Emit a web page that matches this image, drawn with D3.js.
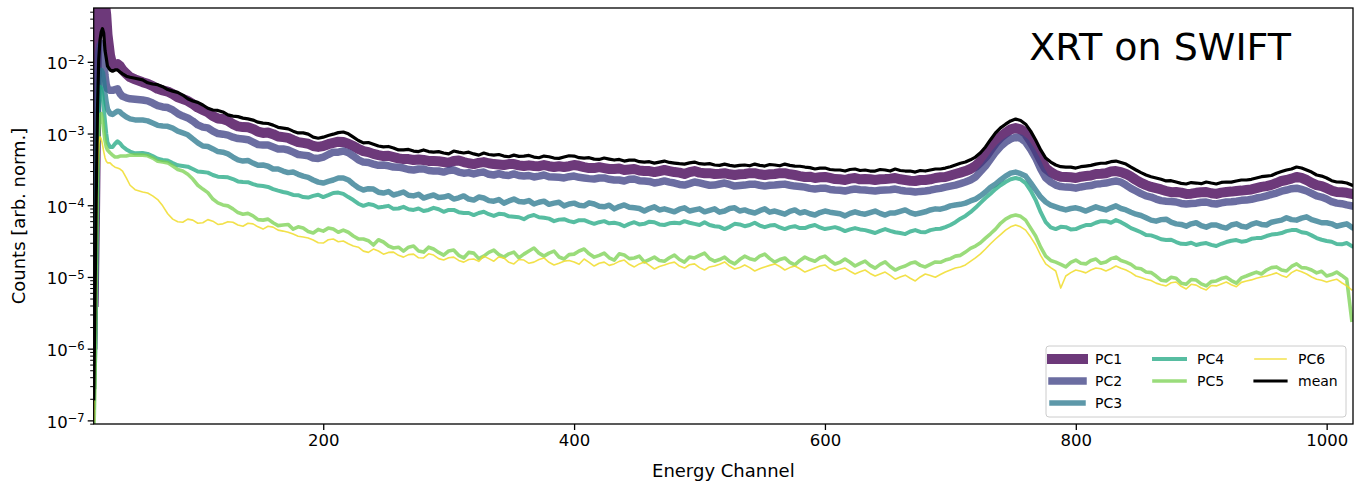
<!DOCTYPE html>
<html>
<head>
<meta charset="utf-8">
<script src="https://cdn.jsdelivr.net/npm/d3@7"></script>
<style>
  body { margin: 0; background: #fff; }
  svg { display: block; }
  text { font-family: "DejaVu Sans", sans-serif; fill: #000; }
</style>
</head>
<body>
<svg id="chart" width="1371" height="490"></svg>
<script>
// Energy channels at which the spectra are sampled
const channels = [17,18,19,20,21,22,23,24,25,26,27,28,30,32,34,36,38,40,43,46,50,
  56,60,64,68,72,76,80,84,88,92,96,100,104,108,112,116,120,124,128,132,
  136,140,144,148,152,156,160,164,168,172,176,180,184,188,192,196,200,204,208,212,
  216,220,224,228,232,236,240,244,248,252,256,260,264,268,272,276,280,284,288,292,
  296,300,304,308,312,316,320,324,328,332,336,340,344,348,352,356,360,364,368,372,
  376,380,384,388,392,396,400,404,408,412,416,420,424,428,432,436,440,444,448,452,
  456,460,464,468,472,476,480,484,488,492,496,500,504,508,512,516,520,524,528,532,
  536,540,544,548,552,556,560,564,568,572,576,580,584,588,592,596,600,604,608,612,
  616,620,624,628,632,636,640,644,648,652,656,660,664,668,672,676,680,684,688,692,
  696,700,704,708,712,716,720,724,728,732,736,740,744,748,752,756,760,764,768,772,
  776,780,784,788,792,796,800,804,808,812,816,820,824,828,832,836,840,844,848,852,
  856,860,864,868,872,876,880,884,888,892,896,900,904,908,912,916,920,924,928,932,
  936,940,944,948,952,956,960,964,968,972,976,980,984,988,992,996,1000,1004,1008,1012,
  1016,1020];

const pc1 = [4.5e-6,6e-5,2e-3,3e-2,7e-2,9e-2,0.1,0.1,9e-2,6.5e-2,4.5e-2,2.4e-2,1.24e-2,8.7e-3,9.0e-3,9.3e-3,8.7e-3,7.7e-3,6.8e-3,6.1e-3,5.7e-3,
  5.2e-3,4.95e-3,4.6e-3,4.2e-3,4.0e-3,3.85e-3,3.55e-3,3.2e-3,3.03e-3,2.85e-3,2.58e-3,2.3e-3,2.13e-3,1.98e-3,1.75e-3,1.62e-3,1.59e-3,1.5e-3,1.35e-3,1.26e-3,
  1.23e-3,1.22e-3,1.16e-3,1.06e-3,1.02e-3,1.03e-3,9.8e-4,9.1e-4,8.9e-4,8.7e-4,8.1e-4,7.6e-4,7.4e-4,7.2e-4,6.7e-4,6.5e-4,6.7e-4,7.1e-4,7.4e-4,7.7e-4,
  7.6e-4,7.2e-4,6.7e-4,6.1e-4,5.7e-4,5.5e-4,5.2e-4,5.0e-4,4.85e-4,4.9e-4,4.7e-4,4.5e-4,4.4e-4,4.4e-4,4.27e-4,4.35e-4,4.27e-4,4.15e-4,4.13e-4,4.1e-4,
  4.0e-4,3.9e-4,4.13e-4,4.2e-4,4.0e-4,3.85e-4,3.75e-4,3.9e-4,4.0e-4,3.85e-4,3.75e-4,3.7e-4,3.64e-4,3.75e-4,3.75e-4,3.6e-4,3.52e-4,3.6e-4,3.52e-4,3.5e-4,
  3.64e-4,3.5e-4,3.41e-4,3.5e-4,3.41e-4,3.5e-4,3.64e-4,3.55e-4,3.41e-4,3.3e-4,3.3e-4,3.4e-4,3.3e-4,3.2e-4,3.2e-4,3.25e-4,3.1e-4,3.15e-4,3.2e-4,3.05e-4,
  3.0e-4,3.0e-4,2.9e-4,3.0e-4,3.1e-4,3.0e-4,2.9e-4,2.85e-4,2.73e-4,2.9e-4,3.0e-4,2.85e-4,2.8e-4,2.8e-4,2.73e-4,2.75e-4,2.8e-4,2.7e-4,2.64e-4,2.7e-4,
  2.73e-4,2.8e-4,2.8e-4,2.7e-4,2.64e-4,2.7e-4,2.73e-4,2.8e-4,2.8e-4,2.7e-4,2.64e-4,2.55e-4,2.48e-4,2.5e-4,2.4e-4,2.45e-4,2.48e-4,2.4e-4,2.32e-4,2.3e-4,
  2.25e-4,2.35e-4,2.4e-4,2.3e-4,2.32e-4,2.3e-4,2.25e-4,2.3e-4,2.32e-4,2.35e-4,2.4e-4,2.3e-4,2.25e-4,2.2e-4,2.18e-4,2.25e-4,2.25e-4,2.3e-4,2.4e-4,2.45e-4,
  2.48e-4,2.6e-4,2.73e-4,2.85e-4,3.0e-4,3.2e-4,3.52e-4,4.1e-4,4.85e-4,6.1e-4,7.6e-4,9.0e-4,1.02e-3,1.14e-3,1.19e-3,1.14e-3,1.02e-3,8.0e-4,6.1e-4,4.4e-4,
  3.3e-4,2.9e-4,2.64e-4,2.5e-4,2.48e-4,2.45e-4,2.4e-4,2.5e-4,2.55e-4,2.6e-4,2.73e-4,2.75e-4,2.8e-4,2.95e-4,3.0e-4,2.9e-4,2.73e-4,2.5e-4,2.25e-4,2.05e-4,
  1.91e-4,1.8e-4,1.73e-4,1.66e-4,1.58e-4,1.52e-4,1.53e-4,1.5e-4,1.44e-4,1.45e-4,1.49e-4,1.52e-4,1.53e-4,1.47e-4,1.44e-4,1.5e-4,1.53e-4,1.55e-4,1.58e-4,1.6e-4,
  1.63e-4,1.66e-4,1.73e-4,1.8e-4,1.85e-4,1.92e-4,2.04e-4,2.18e-4,2.25e-4,2.35e-4,2.48e-4,2.4e-4,2.25e-4,2.05e-4,1.91e-4,1.85e-4,1.73e-4,1.6e-4,1.53e-4,1.52e-4,
  1.49e-4,1.44e-4];

const pc2 = [1.1e-6,2e-5,8e-4,6e-3,1.3e-2,1.7e-2,1.8e-2,1.5e-2,1.0e-2,6.5e-3,4.8e-3,4.2e-3,4.0e-3,4.0e-3,4.1e-3,4.2e-3,3.6e-3,3.3e-3,3.15e-3,3.05e-3,3.0e-3,
  2.93e-3,2.85e-3,2.66e-3,2.45e-3,2.35e-3,2.3e-3,2.13e-3,1.9e-3,1.75e-3,1.65e-3,1.49e-3,1.32e-3,1.23e-3,1.2e-3,1.08e-3,1.0e-3,9.8e-4,9.5e-4,8.9e-4,8.5e-4,
  8.4e-4,8.2e-4,7.6e-4,7.0e-4,6.9e-4,6.9e-4,6.5e-4,6.1e-4,6.1e-4,5.9e-4,5.5e-4,5.1e-4,5.0e-4,4.9e-4,4.55e-4,4.5e-4,4.7e-4,5.1e-4,5.5e-4,5.5e-4,
  5.7e-4,5.4e-4,4.85e-4,4.3e-4,4.0e-4,3.95e-4,3.75e-4,3.6e-4,3.64e-4,3.55e-4,3.41e-4,3.4e-4,3.3e-4,3.15e-4,3.1e-4,3.2e-4,3.2e-4,3.05e-4,3.0e-4,3.0e-4,
  2.9e-4,3.05e-4,3.1e-4,2.9e-4,2.8e-4,2.85e-4,2.73e-4,2.85e-4,2.9e-4,2.7e-4,2.64e-4,2.75e-4,2.64e-4,2.6e-4,2.73e-4,2.6e-4,2.55e-4,2.6e-4,2.48e-4,2.55e-4,
  2.64e-4,2.5e-4,2.48e-4,2.45e-4,2.4e-4,2.5e-4,2.55e-4,2.45e-4,2.4e-4,2.35e-4,2.32e-4,2.4e-4,2.4e-4,2.3e-4,2.25e-4,2.25e-4,2.18e-4,2.3e-4,2.32e-4,2.2e-4,
  2.18e-4,2.15e-4,2.04e-4,2.1e-4,2.18e-4,2.1e-4,2.04e-4,1.95e-4,1.91e-4,2.0e-4,2.11e-4,2.05e-4,1.97e-4,1.9e-4,1.91e-4,1.98e-4,2.04e-4,1.95e-4,1.85e-4,1.88e-4,
  1.91e-4,1.96e-4,1.97e-4,1.9e-4,1.85e-4,1.9e-4,1.91e-4,1.95e-4,1.97e-4,1.9e-4,1.85e-4,1.83e-4,1.79e-4,1.72e-4,1.68e-4,1.72e-4,1.73e-4,1.66e-4,1.63e-4,1.62e-4,
  1.58e-4,1.64e-4,1.68e-4,1.64e-4,1.63e-4,1.6e-4,1.58e-4,1.62e-4,1.63e-4,1.64e-4,1.68e-4,1.62e-4,1.58e-4,1.57e-4,1.53e-4,1.56e-4,1.58e-4,1.62e-4,1.68e-4,1.72e-4,
  1.79e-4,1.85e-4,1.91e-4,2.0e-4,2.11e-4,2.25e-4,2.48e-4,2.95e-4,3.52e-4,4.4e-4,5.5e-4,6.6e-4,7.6e-4,8.4e-4,8.9e-4,8.6e-4,7.6e-4,6.0e-4,4.55e-4,3.2e-4,
  2.4e-4,2.1e-4,1.91e-4,1.82e-4,1.79e-4,1.78e-4,1.73e-4,1.8e-4,1.85e-4,1.88e-4,1.97e-4,2.0e-4,2.04e-4,2.12e-4,2.18e-4,2.1e-4,1.91e-4,1.72e-4,1.58e-4,1.45e-4,
  1.35e-4,1.3e-4,1.22e-4,1.16e-4,1.14e-4,1.13e-4,1.11e-4,1.06e-4,1.04e-4,1.06e-4,1.07e-4,1.1e-4,1.11e-4,1.06e-4,1.04e-4,1.08e-4,1.11e-4,1.12e-4,1.14e-4,1.17e-4,
  1.18e-4,1.21e-4,1.26e-4,1.3e-4,1.35e-4,1.42e-4,1.48e-4,1.57e-4,1.63e-4,1.7e-4,1.73e-4,1.66e-4,1.58e-4,1.46e-4,1.35e-4,1.3e-4,1.22e-4,1.12e-4,1.07e-4,1.05e-4,
  1.01e-4,9.8e-5];

const pc3 = [3e-7,1.5e-6,4e-5,8e-4,4e-3,7e-3,7.6e-3,7e-3,5.2e-3,3.6e-3,2.7e-3,2.2e-3,1.9e-3,1.85e-3,1.95e-3,2.05e-3,2.0e-3,1.85e-3,1.7e-3,1.6e-3,1.55e-3,
  1.54e-3,1.5e-3,1.4e-3,1.3e-3,1.27e-3,1.26e-3,1.19e-3,1.08e-3,1.02e-3,9.6e-4,8.4e-4,7.4e-4,6.7e-4,6.6e-4,6.1e-4,5.6e-4,5.5e-4,5.2e-4,4.7e-4,4.3e-4,
  4.13e-4,4.2e-4,3.87e-4,3.6e-4,3.64e-4,3.5e-4,3.2e-4,3.2e-4,3.0e-4,2.85e-4,2.9e-4,2.7e-4,2.55e-4,2.45e-4,2.25e-4,2.1e-4,2.04e-4,2.15e-4,2.25e-4,2.4e-4,
  2.4e-4,2.25e-4,1.97e-4,1.75e-4,1.63e-4,1.7e-4,1.68e-4,1.52e-4,1.48e-4,1.55e-4,1.39e-4,1.45e-4,1.53e-4,1.38e-4,1.35e-4,1.42e-4,1.26e-4,1.33e-4,1.39e-4,1.28e-4,
  1.3e-4,1.36e-4,1.22e-4,1.27e-4,1.35e-4,1.22e-4,1.18e-4,1.3e-4,1.26e-4,1.16e-4,1.14e-4,1.2e-4,1.07e-4,1.15e-4,1.22e-4,1.13e-4,1.11e-4,1.16e-4,1.04e-4,1.1e-4,
  1.14e-4,1.03e-4,1.07e-4,1.1e-4,9.8e-5,1.04e-4,1.07e-4,1.0e-4,9.8e-5,1.08e-4,1.04e-4,9.7e-5,9.5e-5,1.0e-4,8.9e-5,9.6e-5,1.01e-4,9.4e-5,9.2e-5,9.0e-5,
  8.3e-5,9.0e-5,9.5e-5,8.6e-5,8.9e-5,8.5e-5,8.1e-5,8.8e-5,9.2e-5,8.3e-5,8.6e-5,8.9e-5,8.1e-5,8.5e-5,8.9e-5,8.0e-5,8.3e-5,9.0e-5,9.2e-5,8.3e-5,
  8.6e-5,8.1e-5,7.8e-5,8.4e-5,8.9e-5,8.0e-5,8.3e-5,7.9e-5,7.5e-5,8.2e-5,8.6e-5,7.8e-5,8.1e-5,7.6e-5,7.3e-5,7.9e-5,8.3e-5,8.0e-5,7.8e-5,7.6e-5,
  7.1e-5,7.7e-5,8.1e-5,7.7e-5,7.5e-5,7.9e-5,8.3e-5,7.7e-5,7.3e-5,7.8e-5,7.8e-5,8.2e-5,8.6e-5,7.9e-5,7.5e-5,7.8e-5,8.1e-5,8.6e-5,8.9e-5,8.8e-5,
  9.2e-5,9.8e-5,1.01e-4,1.03e-4,1.07e-4,1.15e-4,1.22e-4,1.35e-4,1.53e-4,1.78e-4,1.97e-4,2.25e-4,2.55e-4,2.8e-4,2.9e-4,2.75e-4,2.55e-4,2.05e-4,1.63e-4,1.3e-4,
  1.11e-4,1.0e-4,9.5e-5,9.0e-5,8.6e-5,9.0e-5,9.2e-5,8.8e-5,8.3e-5,8.9e-5,9.5e-5,9.0e-5,8.6e-5,9.2e-5,9.8e-5,9.0e-5,8.6e-5,8.0e-5,7.5e-5,7.2e-5,
  6.7e-5,6.2e-5,6.0e-5,6.3e-5,6.4e-5,5.8e-5,5.5e-5,5.4e-5,5.1e-5,5.5e-5,5.7e-5,5.2e-5,4.95e-5,5.3e-5,5.3e-5,5.0e-5,4.8e-5,5.3e-5,5.5e-5,5.1e-5,
  4.95e-5,5.4e-5,5.7e-5,5.4e-5,5.3e-5,5.8e-5,6.0e-5,6.2e-5,6.7e-5,6.3e-5,6.2e-5,6.6e-5,6.9e-5,6.3e-5,6.0e-5,5.7e-5,5.7e-5,5.5e-5,5.1e-5,5.3e-5,
  5.5e-5,4.95e-5];

const pc4 = [1.5e-7,1.2e-6,3e-5,6e-4,3e-3,4.5e-3,4.3e-3,3.4e-3,2.3e-3,1.5e-3,1.0e-3,7.5e-4,6.5e-4,6.5e-4,7.2e-4,7.8e-4,7.3e-4,6.6e-4,6.0e-4,5.6e-4,5.3e-4,
  5.35e-4,5.2e-4,4.85e-4,4.45e-4,4.27e-4,4.2e-4,3.87e-4,3.6e-4,3.52e-4,3.45e-4,3.2e-4,2.95e-4,2.9e-4,2.85e-4,2.64e-4,2.5e-4,2.48e-4,2.45e-4,2.32e-4,2.15e-4,
  2.11e-4,2.1e-4,1.97e-4,1.88e-4,1.85e-4,1.8e-4,1.68e-4,1.6e-4,1.53e-4,1.48e-4,1.39e-4,1.38e-4,1.3e-4,1.28e-4,1.35e-4,1.4e-4,1.3e-4,1.38e-4,1.48e-4,1.5e-4,
  1.44e-4,1.3e-4,1.18e-4,1.05e-4,9.8e-5,1.04e-4,1.01e-4,9.3e-5,9.5e-5,9.8e-5,8.9e-5,9.0e-5,9.5e-5,8.8e-5,8.6e-5,9.0e-5,8.3e-5,8.6e-5,9.2e-5,8.8e-5,
  8.1e-5,8.6e-5,8.6e-5,8.0e-5,7.8e-5,7.8e-5,7.3e-5,7.8e-5,8.1e-5,7.5e-5,7.1e-5,7.6e-5,7.5e-5,7.0e-5,6.9e-5,6.8e-5,6.4e-5,7.0e-5,7.3e-5,6.8e-5,
  6.7e-5,6.5e-5,6.0e-5,6.3e-5,6.4e-5,6.0e-5,5.8e-5,6.2e-5,6.2e-5,5.8e-5,5.5e-5,5.8e-5,6.0e-5,5.6e-5,5.7e-5,5.5e-5,5.1e-5,5.5e-5,5.8e-5,5.4e-5,
  5.5e-5,5.9e-5,5.8e-5,5.4e-5,5.3e-5,5.6e-5,5.7e-5,5.6e-5,6.0e-5,5.7e-5,5.5e-5,5.3e-5,5.8e-5,5.3e-5,5.1e-5,5.0e-5,4.65e-5,5.0e-5,5.5e-5,5.4e-5,
  5.1e-5,5.3e-5,5.7e-5,5.2e-5,4.95e-5,5.2e-5,5.3e-5,4.9e-5,4.65e-5,4.95e-5,5.1e-5,4.8e-5,4.8e-5,5.1e-5,5.3e-5,4.9e-5,4.65e-5,4.8e-5,4.95e-5,4.7e-5,
  4.36e-5,4.6e-5,4.8e-5,4.6e-5,4.5e-5,4.3e-5,4.1e-5,4.4e-5,4.65e-5,4.4e-5,4.2e-5,4.1e-5,3.96e-5,4.3e-5,4.5e-5,4.25e-5,4.2e-5,4.5e-5,4.65e-5,4.7e-5,
  4.95e-5,5.3e-5,5.8e-5,6.5e-5,7.1e-5,8.0e-5,9.2e-5,1.08e-4,1.26e-4,1.45e-4,1.68e-4,1.9e-4,2.11e-4,2.3e-4,2.4e-4,2.3e-4,2.04e-4,1.6e-4,1.18e-4,8.0e-5,
  5.8e-5,4.9e-5,4.65e-5,5.0e-5,4.95e-5,4.6e-5,4.65e-5,5.0e-5,5.3e-5,5.3e-5,5.7e-5,6.0e-5,6.0e-5,5.7e-5,6.2e-5,5.8e-5,5.3e-5,4.8e-5,4.5e-5,4.2e-5,
  3.84e-5,3.8e-5,3.6e-5,3.35e-5,3.27e-5,3.3e-5,3.07e-5,2.9e-5,2.88e-5,3.0e-5,2.79e-5,2.9e-5,2.97e-5,2.8e-5,2.7e-5,2.9e-5,3.07e-5,3.2e-5,3.27e-5,3.1e-5,
  3.17e-5,3.4e-5,3.48e-5,3.5e-5,3.72e-5,3.9e-5,3.96e-5,4.1e-5,4.36e-5,4.5e-5,4.5e-5,4.2e-5,4.1e-5,3.8e-5,3.48e-5,3.3e-5,3.17e-5,3.1e-5,2.88e-5,2.85e-5,
  2.97e-5,2.7e-5];

const pc5 = [5e-8,3e-7,8e-6,2e-4,1.1e-3,1.8e-3,1.9e-3,1.6e-3,1.1e-3,8e-4,6.5e-4,5.9e-4,5.4e-4,5.0e-4,4.7e-4,4.7e-4,4.85e-4,4.85e-4,4.85e-4,5.0e-4,5.0e-4,
  5.0e-4,4.9e-4,4.55e-4,4.1e-4,4.0e-4,3.9e-4,3.52e-4,3.15e-4,3.0e-4,2.7e-4,2.32e-4,1.9e-4,1.68e-4,1.5e-4,1.22e-4,1.08e-4,1.01e-4,9.8e-5,8.9e-5,7.9e-5,
  7.5e-5,7.7e-5,7.1e-5,6.3e-5,6.2e-5,6.4e-5,5.7e-5,5.2e-5,5.3e-5,5.4e-5,4.65e-5,5.0e-5,4.8e-5,4.3e-5,4.1e-5,4.6e-5,4.36e-5,4.8e-5,4.65e-5,4.2e-5,
  4.5e-5,4.2e-5,3.72e-5,3.4e-5,3.38e-5,3.2e-5,2.79e-5,3.3e-5,3.07e-5,2.7e-5,2.53e-5,2.6e-5,2.29e-5,2.6e-5,2.7e-5,2.3e-5,2.22e-5,2.6e-5,2.45e-5,2.2e-5,
  2.02e-5,2.3e-5,2.37e-5,2.0e-5,1.84e-5,2.2e-5,2.15e-5,1.8e-5,1.95e-5,2.2e-5,2.37e-5,2.05e-5,1.89e-5,2.1e-5,2.22e-5,1.85e-5,2.08e-5,2.3e-5,2.53e-5,2.15e-5,
  1.95e-5,2.15e-5,2.29e-5,1.9e-5,1.78e-5,2.05e-5,2.08e-5,2.3e-5,2.45e-5,2.1e-5,1.89e-5,2.0e-5,2.15e-5,1.85e-5,1.72e-5,2.1e-5,2.02e-5,1.8e-5,1.84e-5,1.95e-5,
  1.62e-5,1.75e-5,1.89e-5,1.7e-5,1.66e-5,1.85e-5,2.02e-5,1.75e-5,1.61e-5,1.9e-5,1.84e-5,2.0e-5,2.15e-5,1.8e-5,1.66e-5,1.75e-5,1.89e-5,1.65e-5,1.52e-5,1.75e-5,
  1.95e-5,1.8e-5,1.72e-5,1.95e-5,2.08e-5,1.8e-5,1.61e-5,1.75e-5,1.84e-5,1.6e-5,1.47e-5,1.7e-5,1.89e-5,1.75e-5,1.66e-5,1.85e-5,1.95e-5,1.7e-5,1.52e-5,1.6e-5,
  1.78e-5,1.6e-5,1.42e-5,1.55e-5,1.66e-5,1.45e-5,1.33e-5,1.5e-5,1.62e-5,1.4e-5,1.25e-5,1.35e-5,1.42e-5,1.55e-5,1.61e-5,1.45e-5,1.38e-5,1.5e-5,1.62e-5,1.6e-5,
  1.72e-5,1.8e-5,1.95e-5,2.0e-5,2.22e-5,2.5e-5,2.7e-5,3.0e-5,3.48e-5,4.0e-5,4.65e-5,5.6e-5,6.4e-5,7.0e-5,7.3e-5,7.0e-5,6.2e-5,4.8e-5,3.72e-5,2.6e-5,
  1.95e-5,1.7e-5,1.61e-5,1.5e-5,1.38e-5,1.6e-5,1.72e-5,1.55e-5,1.52e-5,1.7e-5,1.78e-5,1.55e-5,1.62e-5,1.8e-5,1.89e-5,1.7e-5,1.61e-5,1.5e-5,1.33e-5,1.3e-5,
  1.17e-5,1.15e-5,1.03e-5,9.0e-6,8.8e-6,9.9e-6,9.6e-6,8.2e-6,7.9e-6,9.2e-6,9.05e-6,8.0e-6,7.5e-6,8.6e-6,8.8e-6,9.5e-6,9.9e-6,8.9e-6,8.2e-6,9.7e-6,
  1.03e-5,1.1e-5,1.17e-5,1.1e-5,1.25e-5,1.35e-5,1.38e-5,1.25e-5,1.21e-5,1.4e-5,1.52e-5,1.35e-5,1.33e-5,1.25e-5,1.14e-5,1.2e-5,1.03e-5,1.08e-5,1.17e-5,1.05e-5,
  9.3e-6,2.5e-6];

const pc6 = [1e-7,1e-6,2e-5,3e-4,7e-4,9e-4,8.5e-4,7e-4,5.6e-4,4.6e-4,4.1e-4,3.9e-4,3.9e-4,3.6e-4,3.4e-4,3.3e-4,3.2e-4,3.0e-4,2.4e-4,1.9e-4,1.65e-4,
  1.53e-4,1.48e-4,1.35e-4,1.2e-4,9.8e-5,7.6e-5,6.4e-5,5.9e-5,5.8e-5,6.4e-5,6.2e-5,5.6e-5,5.7e-5,6.3e-5,6.0e-5,5.4e-5,5.5e-5,5.9e-5,5.8e-5,5.3e-5,
  5.1e-5,5.6e-5,5.5e-5,5.0e-5,4.65e-5,5.1e-5,4.95e-5,4.5e-5,4.36e-5,4.2e-5,3.96e-5,3.7e-5,3.6e-5,3.5e-5,3.27e-5,3.0e-5,2.97e-5,3.3e-5,3.38e-5,3.1e-5,
  3.17e-5,2.9e-5,2.7e-5,2.6e-5,2.29e-5,2.2e-5,2.45e-5,2.3e-5,2.08e-5,2.2e-5,2.22e-5,2.0e-5,1.89e-5,2.05e-5,2.08e-5,1.85e-5,1.84e-5,2.1e-5,2.02e-5,1.8e-5,
  1.72e-5,1.85e-5,1.89e-5,1.7e-5,1.61e-5,1.75e-5,1.78e-5,1.65e-5,1.95e-5,1.8e-5,1.66e-5,1.9e-5,1.84e-5,1.6e-5,1.52e-5,1.75e-5,1.72e-5,1.55e-5,1.61e-5,1.75e-5,
  1.84e-5,1.6e-5,1.47e-5,1.55e-5,1.66e-5,1.7e-5,1.62e-5,1.5e-5,1.78e-5,1.6e-5,1.42e-5,1.55e-5,1.61e-5,1.45e-5,1.52e-5,1.65e-5,1.72e-5,1.5e-5,1.38e-5,1.52e-5,
  1.62e-5,1.45e-5,1.29e-5,1.4e-5,1.47e-5,1.55e-5,1.61e-5,1.42e-5,1.33e-5,1.48e-5,1.52e-5,1.35e-5,1.25e-5,1.38e-5,1.42e-5,1.5e-5,1.62e-5,1.42e-5,1.29e-5,1.35e-5,
  1.47e-5,1.35e-5,1.21e-5,1.3e-5,1.38e-5,1.45e-5,1.52e-5,1.4e-5,1.25e-5,1.35e-5,1.42e-5,1.3e-5,1.17e-5,1.25e-5,1.33e-5,1.42e-5,1.47e-5,1.3e-5,1.21e-5,1.28e-5,
  1.33e-5,1.2e-5,1.1e-5,1.18e-5,1.25e-5,1.12e-5,1.03e-5,1.1e-5,1.17e-5,1.05e-5,9.3e-6,1.0e-5,1.06e-5,9.6e-6,8.8e-6,1.0e-5,1.1e-5,1.05e-5,9.9e-6,1.08e-5,
  1.17e-5,1.25e-5,1.33e-5,1.38e-5,1.47e-5,1.65e-5,1.84e-5,2.1e-5,2.45e-5,2.9e-5,3.38e-5,3.9e-5,4.5e-5,5.0e-5,5.3e-5,5.0e-5,4.5e-5,3.6e-5,2.79e-5,2.0e-5,
  1.52e-5,1.35e-5,1.21e-5,7.0e-6,1.03e-5,1.15e-5,1.25e-5,1.2e-5,1.14e-5,1.25e-5,1.33e-5,1.3e-5,1.21e-5,1.3e-5,1.42e-5,1.32e-5,1.25e-5,1.15e-5,1.03e-5,9.8e-6,
  9.3e-6,8.9e-6,8.2e-6,7.8e-6,7.5e-6,8.3e-6,8.5e-6,7.4e-6,6.8e-6,7.9e-6,7.7e-6,7.0e-6,6.6e-6,7.6e-6,7.5e-6,8.0e-6,8.5e-6,7.8e-6,7.3e-6,8.4e-6,
  8.8e-6,9.1e-6,9.6e-6,1.0e-5,1.03e-5,1.08e-5,1.14e-5,1.05e-5,9.9e-6,1.15e-5,1.25e-5,1.18e-5,1.1e-5,1.0e-5,9.3e-6,9.0e-6,8.5e-6,8.9e-6,9.3e-6,8.3e-6,
  7.5e-6,6.6e-6];

const meanSpectrum = [2e-7,4e-6,1.2e-4,2.1e-3,1.06e-2,2.0e-2,2.6e-2,2.9e-2,2.5e-2,1.45e-2,1.13e-2,8.7e-3,7.7e-3,7.4e-3,7.7e-3,7.7e-3,7.2e-3,6.8e-3,6.3e-3,6.1e-3,5.9e-3,
  5.6e-3,5.1e-3,4.9e-3,4.8e-3,4.5e-3,4.1e-3,3.9e-3,3.75e-3,3.44e-3,3.05e-3,2.84e-3,2.72e-3,2.5e-3,2.25e-3,2.13e-3,2.1e-3,2.0e-3,1.82e-3,1.75e-3,1.72e-3,
  1.64e-3,1.6e-3,1.54e-3,1.44e-3,1.4e-3,1.38e-3,1.31e-3,1.22e-3,1.19e-3,1.16e-3,1.08e-3,1.02e-3,1.02e-3,9.8e-4,8.9e-4,8.6e-4,8.9e-4,9.4e-4,9.8e-4,1.03e-3,
  1.05e-3,9.9e-4,8.9e-4,8.0e-4,7.4e-4,7.5e-4,7.1e-4,6.7e-4,6.5e-4,6.6e-4,6.3e-4,5.9e-4,5.9e-4,6.0e-4,5.7e-4,5.6e-4,5.9e-4,5.6e-4,5.5e-4,5.6e-4,
  5.35e-4,5.2e-4,5.7e-4,5.5e-4,5.35e-4,5.5e-4,5.2e-4,5.0e-4,5.35e-4,5.1e-4,5.0e-4,5.1e-4,4.85e-4,4.75e-4,5.0e-4,4.8e-4,4.85e-4,4.95e-4,4.7e-4,4.6e-4,
  4.85e-4,4.75e-4,4.55e-4,4.5e-4,4.7e-4,4.9e-4,4.85e-4,4.6e-4,4.55e-4,4.6e-4,4.4e-4,4.35e-4,4.55e-4,4.4e-4,4.27e-4,4.35e-4,4.13e-4,4.25e-4,4.27e-4,4.05e-4,
  4.0e-4,4.05e-4,3.87e-4,4.0e-4,4.13e-4,3.95e-4,3.87e-4,3.8e-4,3.75e-4,3.9e-4,4.0e-4,3.8e-4,3.75e-4,3.8e-4,3.64e-4,3.6e-4,3.75e-4,3.6e-4,3.52e-4,3.6e-4,
  3.64e-4,3.55e-4,3.75e-4,3.6e-4,3.52e-4,3.7e-4,3.64e-4,3.55e-4,3.75e-4,3.6e-4,3.52e-4,3.5e-4,3.41e-4,3.35e-4,3.2e-4,3.3e-4,3.3e-4,3.15e-4,3.1e-4,3.1e-4,
  3.0e-4,3.15e-4,3.2e-4,3.05e-4,3.1e-4,3.0e-4,3.0e-4,3.15e-4,3.1e-4,3.0e-4,3.2e-4,3.05e-4,3.0e-4,3.0e-4,2.9e-4,3.05e-4,3.0e-4,3.1e-4,3.2e-4,3.2e-4,
  3.3e-4,3.45e-4,3.64e-4,3.85e-4,4.0e-4,4.3e-4,4.7e-4,5.4e-4,6.5e-4,8.2e-4,1.02e-3,1.2e-3,1.35e-3,1.5e-3,1.59e-3,1.52e-3,1.35e-3,1.08e-3,8.1e-4,5.9e-4,
  4.55e-4,4.0e-4,3.64e-4,3.45e-4,3.41e-4,3.4e-4,3.3e-4,3.45e-4,3.52e-4,3.6e-4,3.75e-4,3.85e-4,3.87e-4,4.05e-4,4.13e-4,3.95e-4,3.75e-4,3.4e-4,3.1e-4,2.85e-4,
  2.64e-4,2.5e-4,2.4e-4,2.3e-4,2.18e-4,2.2e-4,2.11e-4,2.02e-4,1.98e-4,2.07e-4,2.04e-4,2.0e-4,2.11e-4,2.04e-4,1.98e-4,2.08e-4,2.11e-4,2.1e-4,2.18e-4,2.25e-4,
  2.25e-4,2.3e-4,2.4e-4,2.5e-4,2.55e-4,2.6e-4,2.8e-4,2.95e-4,3.1e-4,3.2e-4,3.41e-4,3.3e-4,3.1e-4,2.9e-4,2.64e-4,2.55e-4,2.4e-4,2.2e-4,2.11e-4,2.1e-4,
  2.04e-4,1.91e-4];

const seriesNames = ["PC1", "PC2", "PC3", "PC4", "PC5", "PC6", "mean"];
const seriesValues = [pc1, pc2, pc3, pc4, pc5, pc6, meanSpectrum];
const xTickValues = [200, 400, 600, 800, 1000];
const yTickValues = [1e-7, 1e-6, 1e-5, 1e-4, 1e-3, 1e-2];
const yTickExponents = ["−7", "−6", "−5", "−4", "−3", "−2"];

// viridis colours for the components, black for the mean
const lineStyles = [
  { color: "#440154", width: 10,  opacity: 0.78 },
  { color: "#414487", width: 7.5, opacity: 0.78 },
  { color: "#2a788e", width: 5.5, opacity: 0.76 },
  { color: "#22a884", width: 4,   opacity: 0.76 },
  { color: "#7ad151", width: 3.6, opacity: 0.76 },
  { color: "#f0dc2a", width: 1.6, opacity: 0.85 },
  { color: "#000000", width: 3.2, opacity: 1 }
];

const svg = d3.select("#chart");
const plot = { left: 93.7, top: 8, right: 1353, bottom: 424 };

const x = d3.scaleLinear().domain([17, 1021]).range([plot.left, plot.right]);
const y = d3.scaleLog().domain([8.9e-8, 0.0563]).range([plot.bottom, plot.top]);

svg.append("defs").append("clipPath").attr("id", "plot-clip")
  .append("rect")
  .attr("x", plot.left).attr("y", plot.top)
  .attr("width", plot.right - plot.left).attr("height", plot.bottom - plot.top);

// spectra
const line = d3.line()
  .defined(d => d[1] > 0)
  .x(d => x(d[0]))
  .y(d => y(d[1]));
const lines = svg.append("g").attr("clip-path", "url(#plot-clip)");
seriesValues.forEach((vals, i) => {
  const st = lineStyles[i];
  lines.append("path")
    .datum(channels.map((c, j) => [c, vals[j]]))
    .attr("d", line)
    .attr("fill", "none")
    .attr("stroke", st.color)
    .attr("stroke-opacity", st.opacity)
    .attr("stroke-width", st.width)
    .attr("stroke-linejoin", "round")
    .attr("stroke-linecap", "square");
});

// x axis
const xAxis = svg.append("g")
  .attr("transform", `translate(0,${plot.bottom})`)
  .call(d3.axisBottom(x).tickValues(xTickValues).tickSize(6).tickPadding(4).tickFormat(d3.format("d")));
xAxis.select(".domain").remove();
xAxis.selectAll(".tick line").attr("stroke", "#000").attr("stroke-width", 1.3);
xAxis.selectAll(".tick text").attr("font-size", 16.5).attr("font-family", "DejaVu Sans").attr("dy", "0.72em");

// y axis: minor ticks
const minorTicks = [];
for (let e = -8; e <= -2; e++) {
  for (let k = 2; k <= 9; k++) {
    const v = k * Math.pow(10, e);
    if (v >= y.domain()[0] && v <= y.domain()[1]) minorTicks.push(v);
  }
}
const yMinor = svg.append("g")
  .attr("transform", `translate(${plot.left},0)`)
  .call(d3.axisLeft(y).tickValues(minorTicks).tickSize(3.5).tickFormat(""));
yMinor.select(".domain").remove();
yMinor.selectAll(".tick line").attr("stroke", "#000").attr("stroke-width", 1);

// y axis: major ticks with power-of-ten labels
const yMajor = svg.append("g")
  .attr("transform", `translate(${plot.left},0)`)
  .call(d3.axisLeft(y).tickValues(yTickValues).tickSize(6).tickFormat(""));
yMajor.select(".domain").remove();
yMajor.selectAll(".tick line").attr("stroke", "#000").attr("stroke-width", 1.3);
yMajor.selectAll(".tick").each(function(d, i) {
  const t = d3.select(this).append("text")
    .attr("x", -9).attr("y", 7)
    .attr("text-anchor", "end")
    .attr("font-size", 16.5);
  t.append("tspan").text("10");
  t.append("tspan").attr("dy", "-0.5em").attr("font-size", "0.7em").text(yTickExponents[i]);
});

// frame
svg.append("rect")
  .attr("x", plot.left).attr("y", plot.top)
  .attr("width", plot.right - plot.left).attr("height", plot.bottom - plot.top)
  .attr("fill", "none").attr("stroke", "#000").attr("stroke-width", 1.3);

// axis labels
svg.append("text")
  .attr("x", (plot.left + plot.right) / 2).attr("y", 477)
  .attr("text-anchor", "middle").attr("font-size", 18)
  .text("Energy Channel");
svg.append("text")
  .attr("transform", `translate(25,${(plot.top + plot.bottom) / 2}) rotate(-90)`)
  .attr("text-anchor", "middle").attr("font-size", 18)
  .text("Counts [arb. norm.]");

// instrument title
svg.append("text")
  .attr("x", 1291).attr("y", 60)
  .attr("text-anchor", "end").attr("font-size", 38)
  .text("XRT on SWIFT");

// legend
const legend = svg.append("g");
legend.append("rect")
  .attr("x", 1046).attr("y", 346).attr("width", 300).attr("height", 71).attr("rx", 3)
  .attr("fill", "#fff").attr("fill-opacity", 0.8)
  .attr("stroke", "#cccccc").attr("stroke-width", 1);
const colX = [1052, 1154, 1255];
const rowY = [359, 381, 403];
const slots = [[0,0],[0,1],[0,2],[1,0],[1,1],[2,0],[2,1]];
seriesNames.forEach((name, i) => {
  const [c, r] = slots[i];
  const st = lineStyles[i];
  legend.append("line")
    .attr("x1", colX[c]).attr("x2", colX[c] + 31)
    .attr("y1", rowY[r]).attr("y2", rowY[r])
    .attr("stroke", st.color).attr("stroke-opacity", st.opacity)
    .attr("stroke-width", st.width).attr("stroke-linecap", "square");
  legend.append("text")
    .attr("x", colX[c] + 43).attr("y", rowY[r] + 5)
    .attr("font-size", 14)
    .text(name);
});
</script>
</body>
</html>
